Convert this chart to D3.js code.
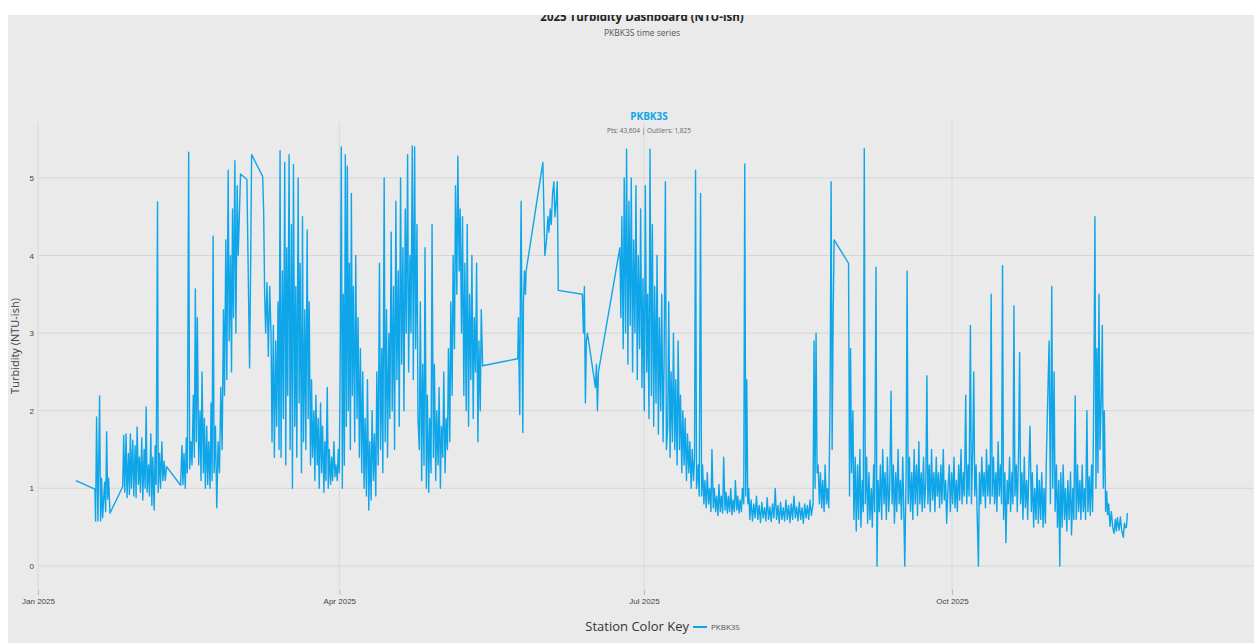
<!DOCTYPE html>
<html>
<head>
<meta charset="utf-8">
<script src="https://cdn.jsdelivr.net/npm/d3@7"></script>
<style>
  body { margin: 0; background: #fff; }
  svg { display: block; font-family: "Open Sans", "Noto Sans", sans-serif; }
</style>
</head>
<body>
<div class="viz"></div>
<script>
var stations = ["PKBK3S"];
var stationColor = "#0ea5e9";
var pointCount = "43,604", outlierCount = "1,825";
var yTicks = [0, 1, 2, 3, 4, 5];
var xTickMonths = ["2025-01-01", "2025-04-01", "2025-07-01", "2025-10-01"];

// [day of year offset from Jan 1, turbidity]
var pkbk3s = [
[11.3,1.10],[17.0,0.99],[17.2,0.58],[17.5,1.92],[17.9,0.58],[18.4,2.19],[18.7,0.58],[19.0,1.13],[19.3,0.62],[19.9,1.08],[20.2,0.70],[20.5,1.73],[20.8,0.86],[21.1,1.13],[21.5,0.68],[25.3,1.02],
[25.6,1.68],[25.9,0.95],[26.3,1.70],[26.6,0.88],[27.0,1.45],[27.3,0.92],[27.6,1.70],[27.9,1.0],[28.3,1.62],[28.6,0.90],[29.0,1.55],[29.3,0.88],[29.6,1.79],[30.0,1.05],[30.3,1.40],[30.6,0.95],[31.0,1.65],[31.3,0.85],[31.7,1.50],[32.0,1.0],[32.3,2.05],[32.6,0.95],[33.0,1.30],[33.3,0.90],[33.7,1.70],[34.0,0.78],[34.3,1.40],[34.7,0.72],[35.0,1.55],[35.3,1.05],[35.7,4.69],[35.9,0.95],[36.3,1.45],[36.6,1.0],[37.0,1.60],[37.3,1.1],[37.7,1.35],[38.0,1.1],[38.4,1.28],[42.6,1.04],
[43.0,1.55],[43.3,1.05],[43.6,1.45],[44.0,1.0],[44.3,1.65],[44.6,1.2],[45.0,5.33],[45.3,1.25],[45.7,1.6],[46.0,1.3],[46.4,2.2],[46.7,1.4],[47.0,3.57],[47.3,1.6],[47.6,3.2],[48.0,1.3],[48.4,2.0],[48.7,1.1],[49.0,2.5],[49.4,1.2],[49.7,1.9],[50.0,1.0],[50.4,1.8],[50.7,1.05],[51.0,1.6],[51.4,1.0],[51.7,2.1],
[52.0,1.1],[52.3,4.25],[52.6,1.2],[53.0,1.8],[53.4,0.75],[53.8,1.6],[54.2,1.2],[54.6,2.3],[55.0,1.5],[55.4,3.3],[55.7,2.2],[56.1,4.2],[56.4,2.4],[56.8,5.1],[57.1,2.9],[57.5,4.0],[57.8,2.5],[58.1,4.6],[58.4,3.2],[58.8,5.22],[59.1,3.0],[59.5,4.9],[59.8,4.0],[60.5,5.05],[62.4,4.98],[63.2,2.55],[63.5,3.8],[63.8,5.30],[67.1,5.02],[67.4,4.57],[67.7,3.5],[68.0,3.0],[68.4,3.65],[68.8,2.7],[69.2,3.6],[69.6,3.0],
[69.9,1.6],[70.3,3.1],[70.6,1.4],[71.0,2.9],[71.3,1.8],[71.7,3.4],[72.0,1.5],[72.3,5.35],[72.6,1.4],[73.0,3.8],[73.3,1.9],[73.7,5.2],[74.0,1.3],[74.3,4.1],[74.6,2.2],[75.0,5.3],[75.3,1.5],[75.7,4.4],[76.0,1.0],[76.3,5.17],[76.7,1.8],[77.0,3.6],[77.3,1.4],[77.7,5.0],[78.0,2.1],[78.3,3.9],[78.7,1.2],[79.0,4.5],[79.3,1.6],[79.7,3.3],[80.0,1.5],[80.4,4.33],[80.7,1.9],[81.0,3.4],[81.4,1.3],[81.7,2.4],[82.0,1.4],[82.4,2.0],[82.7,1.1],[83.0,2.2],[83.4,1.3],[83.7,1.9],[84.0,1.0],[84.4,2.1],[84.7,1.2],[85.0,1.8],[85.4,0.95],[85.7,1.6],[86.0,1.1],[86.4,2.3],[86.7,1.0],[87.0,1.5],[87.4,1.05],[87.7,1.4],[88.0,1.1],[88.4,1.6],[88.7,1.15],[89.0,1.3],[89.4,1.1],[89.7,1.5],
[90.0,1.2],[90.3,2.8],[90.6,5.4],[90.9,1.0],[91.2,3.5],[91.5,1.3],[91.8,5.3],[92.1,1.8],[92.4,5.15],[92.7,2.0],[93.0,3.9],[93.3,1.5],[93.6,4.8],[93.9,2.2],[94.2,3.6],[94.6,1.6],[94.9,4.0],[95.3,1.9],[95.6,3.2],[96.0,1.4],[96.3,2.8],[96.7,1.2],[97.0,2.5],[97.4,1.0],
[97.7,1.9],[98.1,0.9],[98.4,2.4],[98.8,0.72],[99.1,1.6],[99.5,0.85],[99.8,2.0],[100.2,1.1],[100.5,1.7],[100.9,0.9],[101.2,2.5],[101.6,1.3],
[102.0,3.9],[102.3,1.5],[102.7,2.8],[103.0,1.2],[103.4,5.0],[103.7,1.6],[104.1,3.3],[104.4,1.4],[104.8,3.0],[105.1,1.9],[105.5,4.3],[105.8,2.0],[106.2,3.6],[106.5,1.5],[106.9,4.7],[107.2,2.4],[107.6,3.8],[107.9,1.8],[108.3,5.0],[108.6,2.6],[109.0,4.1],[109.3,2.0],[109.7,4.6],[110.0,3.0],[110.4,5.3],[110.7,2.5],[111.1,4.0],[111.4,3.0],[111.8,5.41],[112.1,2.4],[112.5,5.4],[112.8,2.8],[113.2,4.4],[113.5,1.9],
[113.9,1.5],[114.2,3.4],[114.6,1.1],[114.9,2.6],[115.3,1.3],[115.6,4.1],[116.0,1.0],[116.3,2.2],[116.7,0.95],[117.0,1.9],[117.4,1.2],[117.7,4.4],[118.1,1.4],[118.4,2.6],[118.8,1.1],[119.1,2.0],[119.5,1.3],[119.8,2.3],[120.2,1.0],[120.5,1.8],[120.9,1.4],[121.2,2.5],[121.6,1.2],[121.9,1.9],[122.3,1.5],[122.6,2.8],[123.0,1.6],[123.3,3.4],[123.7,2.2],[124.0,4.0],[124.4,2.8],[124.7,4.9],[125.1,3.5],[125.4,5.28],[125.8,3.8],[126.1,4.6],[126.5,3.0],[126.8,4.5],[127.2,2.2],[127.5,3.9],[127.9,2.0],[128.2,4.4],[128.6,1.8],[128.9,3.5],[129.3,2.4],[129.6,4.0],[130.0,1.9],[130.3,3.2],[130.7,2.5],[131.0,3.9],[131.4,1.6],[131.7,2.9],[132.1,2.0],[132.4,3.3],[132.8,2.58],
[143.3,2.67],[143.5,3.2],[143.7,2.5],[143.9,1.95],[144.1,3.7],[144.3,4.7],[144.6,2.8],[144.8,1.72],[145.0,3.4],[145.3,3.8],[145.6,3.5],[145.8,3.8],
[150.8,5.2],[151.4,4.0],[151.9,4.2],[152.3,4.5],[152.6,4.3],[153.0,4.6],[153.3,4.4],[153.7,4.8],[154.1,4.95],[154.4,4.5],[154.8,4.7],[155.1,4.95],[155.4,3.55],[162.6,3.5],
[162.9,3.0],[163.2,3.6],[163.5,2.1],[163.8,2.9],[164.1,3.0],[166.5,2.3],[166.8,2.6],[167.1,2.0],[167.4,2.5],[173.8,4.1],
[174.1,3.2],[174.4,4.5],[174.8,2.8],[175.1,5.0],[175.5,3.0],[175.8,5.37],[176.2,2.6],[176.5,4.7],[176.9,3.1],[177.2,5.0],[177.6,2.5],[177.9,4.2],[178.3,3.0],[178.6,4.9],[179.0,2.4],[179.3,4.0],[179.7,2.8],[180.0,4.6],[180.4,2.3],[180.7,3.7],[181.1,2.0],[181.4,4.9],[181.8,2.5],[182.1,3.5],[182.5,1.9],[182.8,5.37],[183.2,2.2],[183.5,4.4],[183.9,1.8],[184.2,3.6],[184.6,2.1],[184.9,4.0],[185.3,1.7],[185.6,3.2],[186.0,2.0],[186.3,3.5],[186.7,1.6],[187.0,2.6],[187.4,4.95],[187.7,1.5],[188.1,1.8],[188.4,3.4],[188.8,1.4],[189.1,2.5],[189.5,1.6],[189.8,3.0],[190.2,1.5],[190.5,2.4],[190.9,1.3],[191.2,2.9],[191.6,1.5],[191.9,2.2],[192.3,1.2],[192.6,2.0],[193.0,1.3],[193.3,1.9],[193.7,1.1],[194.0,1.7],[194.4,1.2],[194.7,1.6],[195.1,1.0],[195.4,1.5],[195.8,1.1],[196.1,1.4],[196.4,5.1],[196.7,1.0],[197.2,1.3],[197.5,0.9],[197.9,4.8],[198.2,0.9],
[198.5,1.3],[198.9,0.8],[199.2,1.1],[199.6,0.75],[199.9,1.2],[200.3,0.8],[200.6,1.0],[201.0,0.7],[201.3,1.5],[201.7,0.75],[202.0,1.0],[202.4,0.7],[202.7,0.9],[203.1,0.65],[203.4,1.05],[203.8,0.7],[204.1,0.9],[204.5,0.68],[204.8,1.4],[205.2,0.72],[205.5,0.95],[205.9,0.68],[206.2,0.9],[206.6,0.7],[206.9,1.0],[207.3,0.66],[207.6,0.85],[208.0,0.7],[208.3,1.1],[208.7,0.72],[209.0,0.9],[209.4,0.68],[209.7,0.85],[210.1,0.7],[210.4,1.0],[210.8,0.8],[211.1,5.18],[211.4,0.9],[211.7,2.4],[212.0,0.8],[212.3,1.0],
[212.6,0.6],[213.0,0.85],[213.4,0.58],[213.8,0.8],[214.2,0.62],[214.6,0.9],[215.0,0.6],[215.4,0.78],[215.8,0.56],[216.2,0.82],[216.6,0.62],[217.0,0.75],[217.4,0.58],[217.8,0.88],[218.2,0.6],[218.6,0.76],[219.0,0.57],[219.4,0.8],[219.8,0.62],[220.2,1.0],[220.6,0.6],[221.0,0.78],[221.4,0.55],[221.8,0.82],[222.2,0.6],[222.6,0.75],[223.0,0.58],[223.4,0.85],[223.8,0.6],[224.2,0.78],[224.6,0.56],[225.0,0.8],[225.4,0.6],[225.8,0.9],[226.2,0.62],[226.6,0.76],[227.0,0.58],[227.4,0.82],[227.8,0.6],[228.2,0.75],[228.6,0.55],[229.0,0.8],[229.4,0.62],[229.8,0.78],[230.2,0.6],[230.6,0.85],[231.0,0.65],
[231.5,0.8],[231.8,2.9],[232.1,1.0],[232.4,3.0],[232.7,1.2],[233.0,1.3],[233.4,0.8],[233.7,1.2],[234.1,0.75],[234.4,1.1],[234.8,0.7],[235.1,1.3],[235.5,0.8],[235.8,1.0],[236.2,0.75],[236.6,2.2],[236.9,4.95],[237.2,1.5],[237.5,3.2],[237.8,4.2],[242.1,3.9],[242.4,0.9],[242.7,2.8],[243.0,1.2],[243.4,2.0],[243.7,0.6],[244.1,1.4],[244.4,0.45],[244.8,1.3],[245.1,0.6],[245.5,1.5],[245.8,0.5],[246.2,1.1],[246.5,0.7],[246.8,5.38],[247.1,0.8],[247.5,1.4],[247.8,0.55],
[248.2,1.2],[248.5,0.6],[248.9,1.0],[249.2,0.5],[249.6,1.3],[249.9,0.7],[250.3,3.85],[250.6,0.0],[250.9,1.1],[251.3,0.7],[251.6,1.3],[252.0,0.6],[252.3,1.5],[252.7,0.8],[253.0,1.2],[253.4,0.6],[253.7,1.4],[254.1,0.7],[254.4,1.0],[254.8,2.25],[255.1,0.8],[255.5,1.3],[255.8,0.55],[256.2,1.2],[256.5,0.7],[256.9,1.5],[257.2,0.8],[257.6,1.1],[257.9,0.6],[258.3,1.4],[258.6,0.7],[258.9,0.0],[259.3,1.2],[259.6,3.8],[259.9,0.8],[260.3,1.4],[260.6,0.7],[261.0,1.2],[261.3,0.6],[261.7,1.5],[262.0,0.8],[262.4,1.3],[262.7,0.65],[263.1,1.6],[263.4,0.8],[263.8,1.2],[264.1,0.7],[264.5,1.4],[264.8,0.75],[265.2,1.1],[265.5,2.45],[265.8,0.8],[266.2,1.3],[266.5,0.7],[266.9,1.5],[267.2,0.85],[267.6,1.2],[267.9,0.7],[268.3,1.4],[268.6,0.9],[269.0,1.2],[269.3,0.75],[269.7,1.3],[270.0,0.8],[270.4,1.5],[270.7,0.85],[271.1,1.1],[271.4,0.55],[271.8,1.0],
[272.2,1.3],[272.5,0.7],[272.9,1.2],[273.2,0.8],[273.6,1.4],[273.9,0.75],[274.3,1.1],[274.6,0.7],[275.0,1.3],[275.3,0.85],[275.7,1.5],[276.0,0.8],[276.4,1.2],[276.7,0.9],[277.1,2.2],[277.4,0.8],[277.8,1.3],[278.1,0.9],[278.5,3.1],[278.8,0.8],[279.2,1.5],[279.5,2.5],[279.8,0.9],[280.2,1.3],[280.5,0.7],[280.9,0.0],[281.2,1.2],[281.6,0.8],[281.9,1.4],[282.3,0.9],[282.6,1.2],[283.0,0.75],[283.3,1.5],[283.7,0.9],[284.0,1.3],[284.4,0.8],[284.7,3.5],[285.0,0.9],[285.4,1.4],[285.7,0.8],[286.1,1.2],[286.4,0.7],[286.8,1.6],[287.1,0.9],[287.5,1.3],[287.8,0.8],[288.1,3.87],[288.4,0.6],[288.8,1.2],[289.1,0.3],[289.5,1.1],[289.8,0.8],[290.2,1.4],[290.5,0.7],[290.9,1.2],[291.2,0.8],[291.5,3.35],[291.8,0.9],[292.2,1.3],[292.5,0.7],[292.9,1.5],[293.2,2.75],[293.5,0.8],[293.9,1.2],[294.2,0.6],[294.6,1.4],[294.9,0.75],[295.3,1.1],[295.6,0.6],[296.0,1.3],[296.3,1.8],[296.7,0.7],[297.0,1.2],[297.4,0.5],[297.7,1.0],[298.1,0.6],[298.4,1.3],[298.8,0.55],[299.1,1.1],[299.5,0.6],[299.8,1.2],[300.2,0.5],[300.5,1.0],[300.9,0.55],[301.2,1.4],
[302.0,2.9],[302.4,0.8],[302.8,3.6],[303.1,1.0],[303.5,2.5],[303.8,0.7],[304.2,1.3],[304.5,0.5],[304.9,1.1],[305.2,0.0],[305.5,1.2],[305.9,0.5],[306.2,1.3],[306.6,0.6],[306.9,1.0],[307.3,0.45],[307.6,1.1],[308.0,0.6],[308.4,1.21],[308.7,0.4],[309.1,1.0],[309.4,0.6],[309.8,2.19],[310.1,0.6],[310.5,1.3],[310.8,0.7],[311.2,1.1],[311.5,0.6],[311.9,1.3],[312.2,0.7],[312.6,1.0],[312.9,0.6],[313.3,2.0],[313.6,0.7],[314.0,1.15],[314.3,0.65],[314.7,1.3],[315.0,0.7],[315.4,2.4],[315.7,4.5],[316.0,1.0],[316.3,2.8],[316.6,1.2],[316.9,3.5],[317.2,1.5],[317.6,2.2],[317.9,3.1],[318.2,1.0],[318.5,2.0],[318.9,0.7],
[319.2,0.96],[319.5,0.66],[319.8,0.8],[320.2,0.51],[320.6,0.7],[321.0,0.5],[321.4,0.42],[321.8,0.6],[322.1,0.45],[322.4,0.62],[322.9,0.46],[323.3,0.63],[323.7,0.45],[324.2,0.37],[324.5,0.55],[324.8,0.49],[325.1,0.5],[325.4,0.68]
];

var width = 1254, height = 643;
var plot = { left: 38, right: 1260, top: 122, bottom: 590 };
var yearStart = new Date(2025, 0, 1);

var svg = d3.select('.viz').append('svg')
    .attr('width', width)
    .attr('height', height);

// grey panel
svg.append('rect')
    .attr('x', 8).attr('y', 15)
    .attr('width', width - 8).attr('height', height - 15)
    .attr('fill', '#eaeaea');

var x = d3.scaleTime()
    .domain([yearStart, new Date(2026, 0, 1)])
    .range([plot.left, plot.right]);

var y = d3.scaleLinear()
    .domain([-0.31, 5.72])
    .range([plot.bottom, plot.top]);

var tickDates = xTickMonths.map(function(s) { return d3.timeParse("%Y-%m-%d")(s); });

// gridlines
svg.append('g').selectAll('line')
    .data(yTicks)
    .enter().append('line')
    .attr('x1', plot.left).attr('x2', width)
    .attr('y1', d => y(d)).attr('y2', d => y(d))
    .attr('stroke', '#d6d6d6').attr('stroke-width', 1);

svg.append('g').selectAll('line')
    .data(tickDates)
    .enter().append('line')
    .attr('x1', d => x(d)).attr('x2', d => x(d))
    .attr('y1', plot.top).attr('y2', plot.bottom)
    .attr('stroke', '#d9d9d9').attr('stroke-width', 1);

// x axis
var xAxis = d3.axisBottom(x)
    .tickValues(tickDates)
    .tickFormat(d3.timeFormat("%b %Y"))
    .tickSize(5)
    .tickPadding(3);

var gx = svg.append('g')
    .attr('transform', 'translate(0,' + plot.bottom + ')')
    .call(xAxis);
gx.select('.domain').remove();
gx.selectAll('line').attr('stroke', '#bbb');
gx.selectAll('text').attr('fill', '#444').style('font-size', '8px');

// y axis
var yAxis = d3.axisLeft(y)
    .tickValues(yTicks)
    .tickFormat(d3.format('d'))
    .tickSize(0)
    .tickPadding(4);

var gy = svg.append('g')
    .attr('transform', 'translate(' + plot.left + ',0)')
    .call(yAxis);
gy.select('.domain').remove();
gy.selectAll('text').attr('fill', '#444').style('font-size', '8px');

svg.append('text')
    .attr('transform', 'translate(19,346)rotate(-90)')
    .attr('text-anchor', 'middle')
    .attr('fill', '#444')
    .style('font-size', '11px')
    .text('Turbidity (NTU-ish)');

// series
var line = d3.line()
    .x(d => x(d3.timeDay.offset(yearStart, 0).getTime() + d[0] * 864e5))
    .y(d => y(d[1]));

svg.append('path')
    .datum(pkbk3s)
    .attr('d', line)
    .attr('fill', 'none')
    .attr('stroke', stationColor)
    .attr('stroke-width', 1.4)
    .attr('stroke-linejoin', 'round');

// station annotation
svg.append('text')
    .attr('x', 649).attr('y', 120)
    .attr('text-anchor', 'middle')
    .attr('fill', stationColor)
    .style('font-size', '10px')
    .style('font-weight', 'bold')
    .text(stations[0]);

svg.append('text')
    .attr('x', 649).attr('y', 133)
    .attr('text-anchor', 'middle')
    .attr('fill', '#666')
    .style('font-size', '6.5px')
    .text('Pts: ' + pointCount + ' | Outliers: ' + outlierCount);

// titles
svg.append('text')
    .attr('x', 642).attr('y', 21)
    .attr('text-anchor', 'middle')
    .attr('fill', '#222')
    .style('font-size', '11.5px')
    .style('font-weight', 'bold')
    .text('2025 Turbidity Dashboard (NTU-ish)');

svg.append('text')
    .attr('x', 642).attr('y', 36)
    .attr('text-anchor', 'middle')
    .attr('fill', '#555')
    .style('font-size', '8.5px')
    .text(stations[0] + ' time series');

// legend
var legend = svg.append('g').attr('transform', 'translate(0,627)');
legend.append('text')
    .attr('x', 689).attr('y', 4)
    .attr('text-anchor', 'end')
    .attr('fill', '#333')
    .style('font-size', '13px')
    .text('Station Color Key');
legend.selectAll('g.key')
    .data(stations)
    .enter().append('g')
    .attr('class', 'key')
    .each(function(d) {
        var k = d3.select(this);
        k.append('line')
            .attr('x1', 693).attr('x2', 707)
            .attr('y1', 0).attr('y2', 0)
            .attr('stroke', stationColor).attr('stroke-width', 2);
        k.append('text')
            .attr('x', 711).attr('y', 3)
            .attr('fill', '#555')
            .style('font-size', '8px')
            .text(d);
    });

// white margins of the screenshot
svg.append('rect').attr('x', 0).attr('y', 0).attr('width', width).attr('height', 15).attr('fill', '#fff');
svg.append('rect').attr('x', 0).attr('y', 0).attr('width', 8).attr('height', height).attr('fill', '#fff');
</script>
</body>
</html>
